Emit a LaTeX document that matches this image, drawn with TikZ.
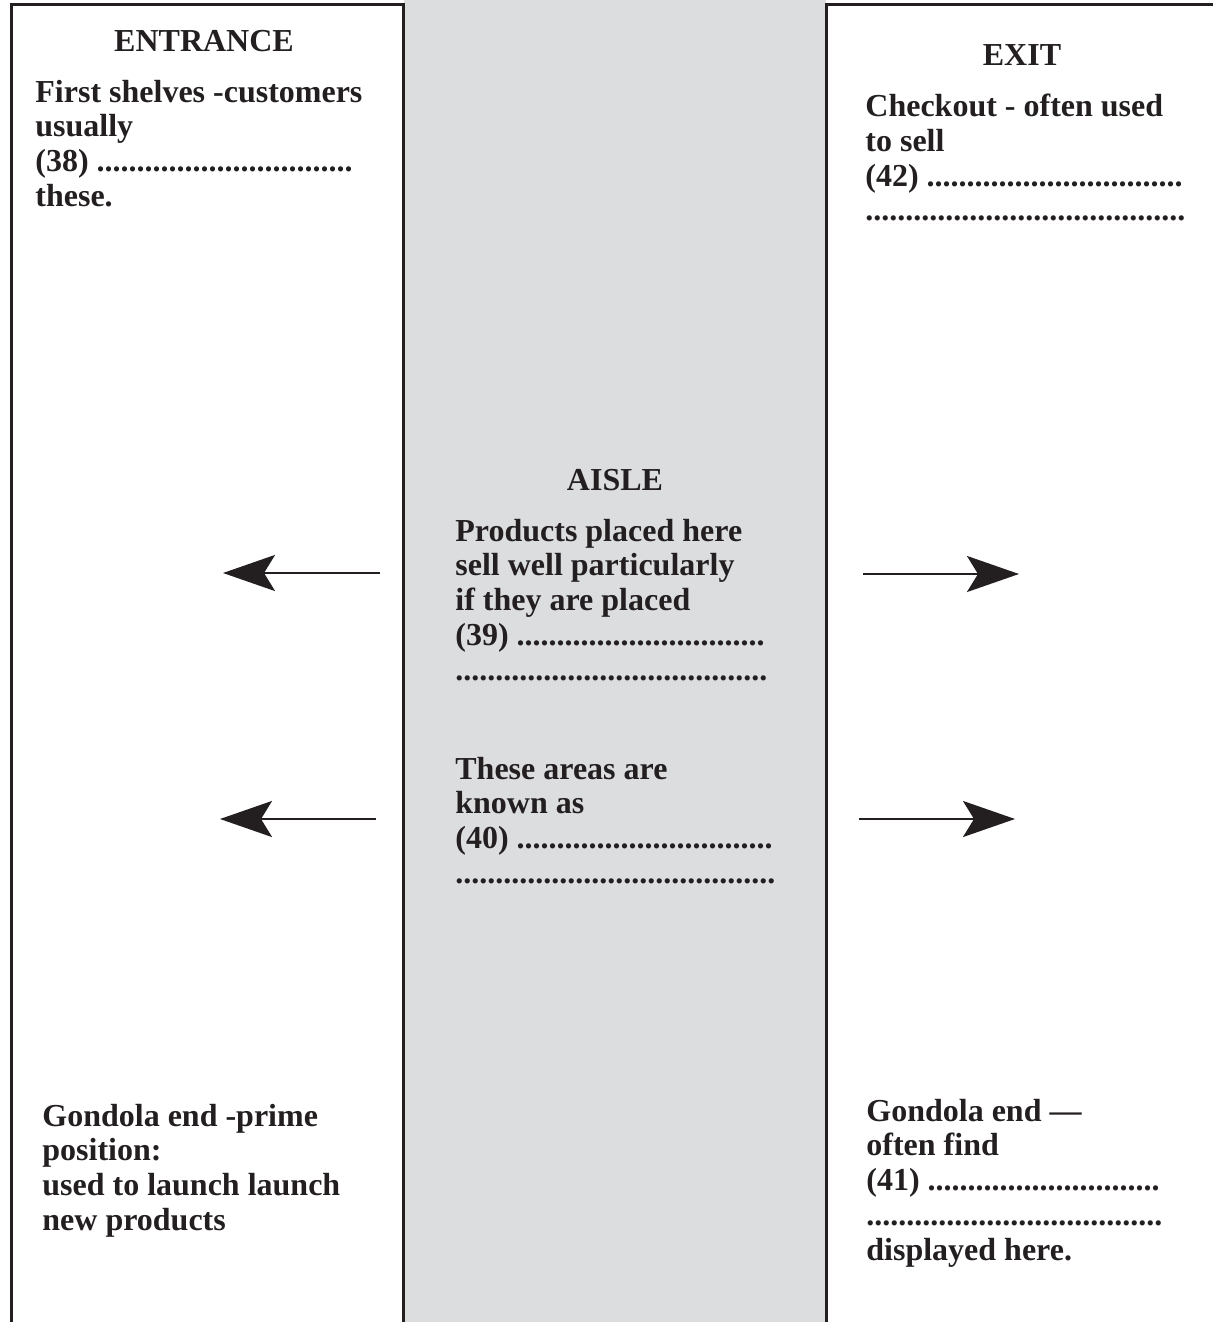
\documentclass[tikz,border=0pt]{standalone}
\usepackage{fontspec}
\setmainfont{Liberation Serif}
\usetikzlibrary{arrows.meta}
\definecolor{ink}{HTML}{231F20}
\definecolor{aislegray}{HTML}{DCDDDF}
\begin{document}
\begin{tikzpicture}[x=0.5pt,y=-0.5pt,
  txt/.style={anchor=north west,inner sep=0pt,align=left,text=ink,
    font=\fontsize{16pt}{17.4pt}\selectfont\bfseries},
  head/.style={anchor=base,inner sep=0pt,text=ink,
    font=\fontsize{16pt}{17.5pt}\selectfont\bfseries},
  wall/.style={draw=ink,line width=1.5pt},
  pointer/.style={draw=ink,line width=1.3pt,
    -{Stealth[length=26pt,width=18pt,inset=5.5pt]}}]
\useasboundingbox (0,0) rectangle (1212,1322);
% aisle
\fill[aislegray] (404,0) rectangle (826,1322);
% shelves outlines
\draw[wall] (11,1330) -- (11,5) -- (403,5) -- (403,1330);
\draw[wall] (826,1330) -- (826,5) -- (1216,5);
% headings
\node[head] (entrance) at (204,52) {ENTRANCE};
\node[head] (exit) at (1022,66) {EXIT};
\node[head] (aisle) at (615,490) {AISLE};
% texts
\node[txt] (first) at (35,79.5) {First shelves -customers\\usually\\(38) ................................\\these.};
\node[txt] (checkout) at (865,93.5) {Checkout - often used\\to sell\\(42) ................................\\........................................};
\node[txt] (products) at (455,518.5) {Products placed here\\sell well particularly\\if they are placed\\(39) ...............................\\.......................................};
\node[txt] (areas) at (455,756.5) {These areas are\\known as\\(40) ................................\\........................................};
\node[txt] (gondolaL) at (42,1103.5) {Gondola end -prime\\position:\\used to launch launch\\new products};
\node[txt] (gondolaR) at (866,1098.5) {Gondola end —\\often find\\(41) .............................\\.....................................\\displayed here.};
% arrows
\coordinate (l1s) at (380,573);
\coordinate (l1e) at (223,573);
\coordinate (l2s) at (376,819);
\coordinate (l2e) at (220,819);
\coordinate (r1s) at (863,574);
\coordinate (r1e) at (1019,574);
\coordinate (r2s) at (859,819);
\coordinate (r2e) at (1015,819);
\draw[pointer] (l1s) -- (l1e);
\draw[pointer] (l2s) -- (l2e);
\draw[pointer] (r1s) -- (r1e);
\draw[pointer] (r2s) -- (r2e);
\end{tikzpicture}
\end{document}
